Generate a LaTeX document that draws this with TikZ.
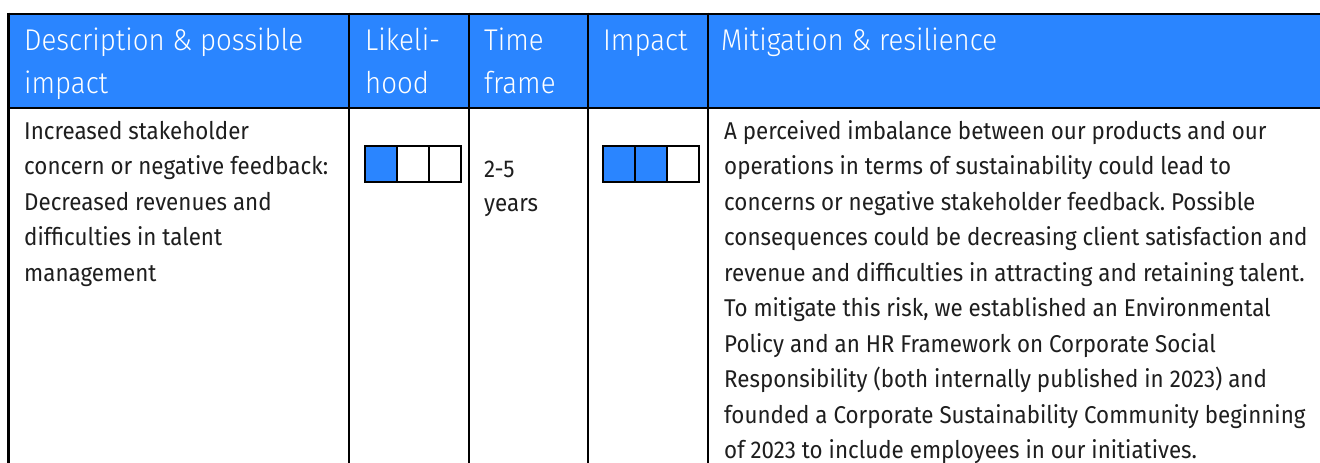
\documentclass[tikz,border=0pt]{standalone}
\usepackage{fontspec}
\setmainfont{Fira Sans}[FakeStretch=0.92]
\newfontfamily\hdrfont{Fira Sans Light}[FakeStretch=0.92]
\frenchspacing
\definecolor{hdrblue}{HTML}{2A85FF}
\definecolor{txtgray}{HTML}{1E1E1E}
\tikzset{
  grid/.style={line width=2.6pt, black},
  hdr/.style={anchor=base west, inner sep=0pt, text=white, font=\hdrfont\fontsize{30}{40}\selectfont},
  body/.style={anchor=base west, inner sep=0pt, text=txtgray, font=\fontsize{24.3}{35}\selectfont\frenchspacing},
  cellon/.style={fill=hdrblue, draw=black, line width=2.4pt},
  celloff/.style={fill=white, draw=black, line width=2.4pt}
}
\begin{document}
\begin{tikzpicture}[x=1pt, y=-1pt]
\useasboundingbox (0,0) rectangle (1320,463);
\clip (0,0) rectangle (1320,463);
% header band
\fill[hdrblue] (8.5,14) rectangle (1335,108);
% grid lines
\draw[grid] (8.5,14) -- (1335,14);
\draw[grid] (8.5,108) -- (1335,108);
\foreach \cx in {8.5,349,469,588,708}{
  \draw[grid] (\cx,12.7) -- (\cx,475);
}
% header texts
\node[hdr] (h1a) at (24,50) {Description \& possible};
\node[hdr] (h1b) at (24,93) {impact};
\node[hdr] (h2a) at (365,50) {Likeli-};
\node[hdr] (h2b) at (365,93) {hood};
\node[hdr] (h3a) at (484,50) {Time};
\node[hdr] (h3b) at (484,93) {frame};
\node[hdr] (h4a) at (603,50) {Impact};
\node[hdr] (h5a) at (721,50) {Mitigation \& resilience};
% description column
\foreach \t [count=\i] in {Increased stakeholder, concern or negative feedback:, Decreased revenues and, difficulties in talent, management}{
  \node[body] (d\i) at (24,{139+(\i-1)*35.5}) {\t};
}
% likelihood squares
\draw[cellon]  (365,146) rectangle (397,182);
\draw[celloff] (397,146) rectangle (429,182);
\draw[celloff] (429,146) rectangle (461,182);
% time frame
\node[body] (t1) at (484,177) {2-5};
\node[body] (t2) at (484,211) {years};
% impact squares
\draw[cellon]  (603,146) rectangle (635,182);
\draw[cellon]  (635,146) rectangle (667,182);
\draw[celloff] (667,146) rectangle (699,182);
% mitigation column
\foreach \t [count=\i] in {A perceived imbalance between our products and our,
  operations in terms of sustainability could lead to,
  concerns or negative stakeholder feedback. Possible,
  consequences could be decreasing client satisfaction and,
  {revenue and difficulties in attracting and retaining talent.},
  {To mitigate this risk, we established an Environmental},
  Policy and an HR Framework on Corporate Social,
  Responsibility (both internally published in 2023) and,
  founded a Corporate Sustainability Community beginning,
  of 2023 to include employees in our initiatives.}{
  \node[body] (m\i) at (724,{139+(\i-1)*35.5}) {\t};
}
\end{tikzpicture}
\end{document}
